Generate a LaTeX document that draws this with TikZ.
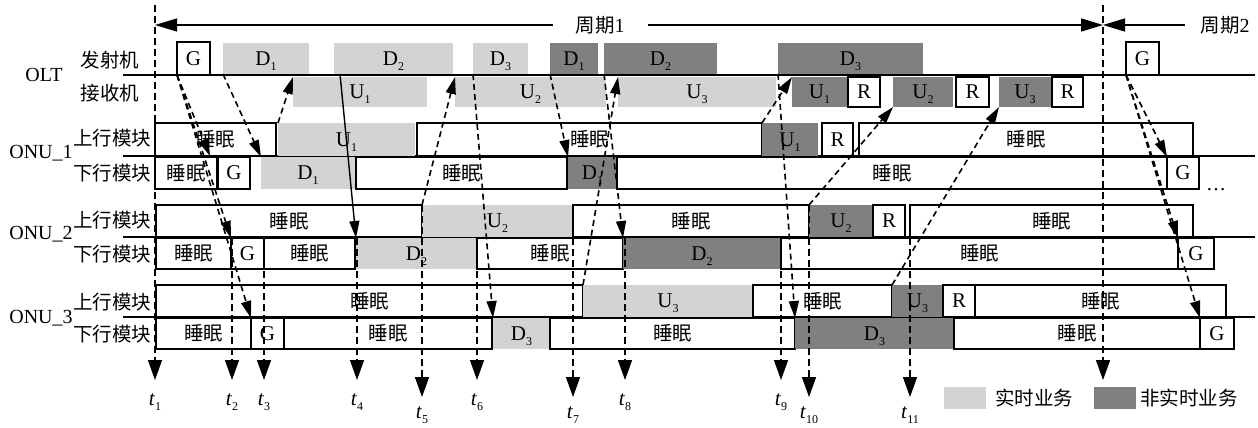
\documentclass[tikz,border=0pt]{standalone}
\usepackage{fontspec}
\setmainfont{Liberation Serif}
\newfontfamily\cjk{Noto Sans CJK SC}
\usetikzlibrary{arrows.meta}
\definecolor{lg}{RGB}{211,211,211}
\definecolor{dg}{RGB}{128,128,128}
\newcommand\lsub[1]{\smash{\raisebox{-5pt}{\fontsize{12}{12}\selectfont #1}}}
\newcommand\zh[1]{{\cjk\fontsize{19.5}{20}\selectfont #1}}
\newcommand\mybox[7]{\node[#1,anchor=north west,minimum width={(#4)-(#3)},minimum height={(#6)-(#5)}] (#2) at (#3,#5) {#7};}
\tikzset{
 bxbase/.style={inner sep=0pt, outer sep=0pt, font=\fontsize{21}{22}\selectfont},
 wbox/.style={bxbase, draw, fill=white, line width=1.4pt},
 lbox/.style={bxbase, fill=lg},
 dbox/.style={bxbase, fill=dg},
 rowline/.style={line width=1.4pt},
 tline/.style={dash pattern=on 7pt off 4pt, line width=1.5pt, -{Triangle[length=20pt,width=14pt]}},
 darr/.style={dash pattern=on 6pt off 4pt, line width=1.6pt, -{Triangle[length=17pt,width=10pt]}},
 sarr/.style={line width=1.4pt, -{Triangle[length=17pt,width=10pt]}},
 per/.style={line width=1.4pt, -{Triangle[length=22pt,width=13pt]}},
 lab/.style={inner sep=0pt, font=\fontsize{20}{22}\selectfont},
 tlab/.style={inner sep=0pt, anchor=base, font=\fontsize{21}{22}\selectfont},
}
\begin{document}
\begin{tikzpicture}[x=1pt,y=-1pt]
\fill[white] (0,0) rectangle (1258,428);
\useasboundingbox (0,0) rectangle (1258,428);
% row lines
\draw[rowline] (123,75) -- (1255,75);
\draw[rowline] (123,156) -- (1255,156);
\draw[rowline] (123,237) -- (1255,237);
\draw[line width=2.5pt] (123,317) -- (1255,317);
% left labels
\node[lab] (lOLT) at (44,75) {OLT};
\node[lab] (lTx) at (110,60) {\zh{发射机}};
\node[lab] (lRx) at (110,93) {\zh{接收机}};
\node[lab] (lONa) at (41,153) {ONU\_1};
\node[lab] (laU) at (112,138) {\zh{上行模块}};
\node[lab] (laD) at (112,173) {\zh{下行模块}};
\node[lab] (lONb) at (41,234) {ONU\_2};
\node[lab] (lbU) at (112,220) {\zh{上行模块}};
\node[lab] (lbD) at (112,254) {\zh{下行模块}};
\node[lab] (lONc) at (41,318) {ONU\_3};
\node[lab] (lcU) at (112,302) {\zh{上行模块}};
\node[lab] (lcD) at (112,334) {\zh{下行模块}};
% OLT tx
\mybox{wbox}{oG}{177}{210}{42}{75}{G}
\mybox{lbox}{oDa}{223}{309}{43}{74}{D\lsub{1}}
\mybox{lbox}{oDb}{334}{453}{43}{74}{D\lsub{2}}
\mybox{lbox}{oDc}{473}{528}{43}{74}{D\lsub{3}}
\mybox{dbox}{oNa}{550}{598}{43}{74}{D\lsub{1}}
\mybox{dbox}{oNb}{604}{717}{43}{74}{D\lsub{2}}
\mybox{dbox}{oNc}{778}{923}{43}{74}{D\lsub{3}}
\mybox{wbox}{oG2}{1126}{1159}{42}{75}{G}
% OLT rx
\mybox{lbox}{rUa}{293}{427}{77}{107}{U\lsub{1}}
\mybox{lbox}{rUb}{455}{606}{77}{107}{U\lsub{2}}
\mybox{lbox}{rUc}{618}{776}{77}{107}{U\lsub{3}}
\mybox{dbox}{rNa}{792}{847}{77}{107}{U\lsub{1}}
\mybox{wbox}{rRa}{848}{880}{77}{107}{R}
\mybox{dbox}{rNb}{893}{953}{77}{107}{U\lsub{2}}
\mybox{wbox}{rRb}{956}{989}{77}{107}{R}
\mybox{dbox}{rNc}{999}{1051}{77}{107}{U\lsub{3}}
\mybox{wbox}{rRc}{1052}{1083}{77}{107}{R}
% ONU1 up
\mybox{wbox}{aUs1}{155}{276}{123}{156}{\zh{睡眠}}
\mybox{lbox}{aU}{278}{415}{123}{156}{U\lsub{1}}
\mybox{wbox}{aUs2}{417}{762}{123}{156}{\zh{睡眠}}
\mybox{dbox}{aN}{762}{818}{123}{156}{U\lsub{1}}
\mybox{wbox}{aR}{822}{853}{123}{156}{R}
\mybox{wbox}{aUs3}{859}{1193}{123}{156}{\zh{睡眠}}
% ONU1 down
\mybox{wbox}{aDs1}{155}{217}{157}{189}{\zh{睡眠}}
\mybox{wbox}{aG}{218}{250}{157}{189}{G}
\mybox{lbox}{aD}{261}{355}{157}{189}{D\lsub{1}}
\mybox{wbox}{aDs2}{356}{567}{157}{189}{\zh{睡眠}}
\mybox{dbox}{aDN}{568}{617}{157}{189}{D\lsub{1}}
\mybox{wbox}{aDs3}{617}{1167}{157}{189}{\zh{睡眠}}
\mybox{wbox}{aG2}{1167}{1199}{157}{189}{G}
\node[lab] (dots) at (1216,190) {…};
% ONU2 up
\mybox{wbox}{bUs1}{156}{422}{205}{237}{\zh{睡眠}}
\mybox{lbox}{bU}{422}{573}{205}{237}{U\lsub{2}}
\mybox{wbox}{bUs2}{573}{809}{205}{237}{\zh{睡眠}}
\mybox{dbox}{bN}{809}{873}{205}{237}{U\lsub{2}}
\mybox{wbox}{bR}{873}{905}{205}{237}{R}
\mybox{wbox}{bUs3}{910}{1193}{205}{237}{\zh{睡眠}}
% ONU2 down
\mybox{wbox}{bDs1}{156}{231}{238}{269}{\zh{睡眠}}
\mybox{wbox}{bG}{231}{264}{238}{269}{G}
\mybox{wbox}{bDs2}{264}{355}{238}{269}{\zh{睡眠}}
\mybox{lbox}{bD}{356}{477}{238}{269}{D\lsub{2}}
\mybox{wbox}{bDs3}{477}{623}{238}{269}{\zh{睡眠}}
\mybox{dbox}{bDN}{623}{781}{238}{269}{D\lsub{2}}
\mybox{wbox}{bDs4}{781}{1178}{238}{269}{\zh{睡眠}}
\mybox{wbox}{bG2}{1178}{1214}{238}{269}{G}
% ONU3 up
\mybox{wbox}{cUs1}{156}{583}{285}{317}{\zh{睡眠}}
\mybox{lbox}{cU}{583}{753}{285}{317}{U\lsub{3}}
\mybox{wbox}{cUs2}{753}{892}{285}{317}{\zh{睡眠}}
\mybox{dbox}{cN}{892}{943}{285}{317}{U\lsub{3}}
\mybox{wbox}{cR}{943}{975}{285}{317}{R}
\mybox{wbox}{cUs3}{975}{1226}{285}{317}{\zh{睡眠}}
% ONU3 down
\mybox{wbox}{cDs1}{156}{251}{318}{349}{\zh{睡眠}}
\mybox{wbox}{cG}{251}{284}{318}{349}{G}
\mybox{wbox}{cDs2}{284}{492}{318}{349}{\zh{睡眠}}
\mybox{lbox}{cD}{493}{550}{318}{349}{D\lsub{3}}
\mybox{wbox}{cDs3}{550}{795}{318}{349}{\zh{睡眠}}
\mybox{dbox}{cDN}{795}{954}{318}{349}{D\lsub{3}}
\mybox{wbox}{cDs4}{954}{1200}{318}{349}{\zh{睡眠}}
\mybox{wbox}{cG2}{1200}{1234}{318}{349}{G}
% time lines
\foreach \n/\x/\ys/\ye/\ly in {1/155/5/380/405, 2/232/238/380/405, 3/264/238/380/405, 4/357/238/380/405, 5/422/205/397/418, 6/477/238/380/405, 7/573/205/397/418, 8/625/238/380/405, 9/781/238/380/405, 10/809/205/397/418, 11/910/238/397/418}{
 \coordinate (ts\n) at (\x,\ys);
 \coordinate (te\n) at (\x,\ye);
 \draw[tline] (ts\n) -- (te\n);
 \node[tlab] (tl\n) at (\x,\ly) {\textit{t}\lsub{\n}};
}
\coordinate (pe) at (1103,5);
\coordinate (pb) at (1103,380);
\draw[tline] (pe) -- (pb);
% period arrows
\coordinate (pL) at (155,25);
\coordinate (pLe) at (553,25);
\coordinate (pRs) at (648,25);
\coordinate (pM) at (1103,25);
\coordinate (pTs) at (1185,25);
\node[lab] (p1) at (600,25) {\zh{周期}1};
\node[lab] (p2) at (1225,25) {\zh{周期}2};
\draw[per] (pLe) -- (pL);
\draw[per] (pRs) -- (pM);
\draw[per] (pTs) -- (pM);
% signal arrows
\coordinate (a1e) at (210,156);
\draw[darr] (oG.south west) -- (a1e);
\draw[darr] (oG.south west) -- (bG.north west);
\draw[darr] (oG.south west) -- (cG.north west);
\draw[darr] (oDa.south west) -- (aD.north west);
\draw[darr] (aU.north west) -- (rUa.north west);
\draw[sarr] ([xshift=6pt]oDb.south west) -- (bD.north west);
\draw[darr] (bU.north west) -- (rUb.north west);
\draw[darr] (oDc.south west) -- (cD.north west);
\draw[darr] (oNa.south west) -- (aDN.north west);
\draw[darr] (cU.north west) -- (rUc.north west);
\draw[darr] (oNb.south west) -- (bDN.north west);
\draw[darr] (aN.north west) -- (rNa.north west);
\draw[darr] (oNc.south west) -- (cDN.north west);
\draw[darr] (bN.north west) -- (rNb.south west);
\draw[darr] (cN.north west) -- (rNc.south west);
\draw[darr] (oG2.south west) -- (aG2.north west);
\draw[darr] (oG2.south west) -- (bG2.north west);
\draw[darr] (oG2.south west) -- (cG2.north west);
% legend
\mybox{lbox}{lgA}{944}{986}{387}{409}{}
\node[lab, anchor=west] (lgAt) at (995,398) {\zh{实时业务}};
\mybox{dbox}{lgB}{1094}{1136}{387}{409}{}
\node[lab, anchor=west] (lgBt) at (1140,398) {\zh{非实时业务}};
\end{tikzpicture}
\end{document}
